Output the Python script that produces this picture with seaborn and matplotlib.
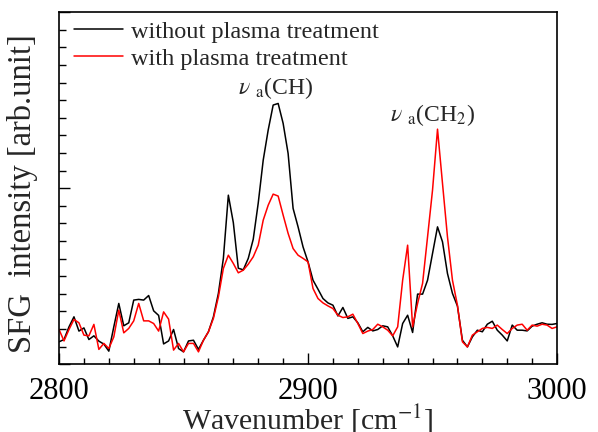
import numpy as np
import pandas as pd
import matplotlib
matplotlib.use("Agg")
import matplotlib.pyplot as plt
from matplotlib.ticker import MultipleLocator
import seaborn as sns

# SFG spectra, sampled every 2 cm-1 from 2800 to 3000
wavenumber = np.arange(2800, 3001, 2)

without_plasma = [
    1.27, 1.40, 2.12, 2.69, 1.88, 2.06, 1.40, 1.61, 1.31, 1.14,
    0.74, 2.12, 3.45, 2.18, 2.35, 3.64, 3.68, 3.64, 3.90, 3.03,
    2.77, 1.15, 1.32, 1.97, 0.89, 0.70, 1.32, 1.36, 0.84, 1.36,
    1.84, 2.69, 4.02, 6.01, 9.60, 8.04, 5.45, 5.36, 6.01, 7.10,
    9.15, 11.59, 13.30, 14.72, 14.81, 13.68, 11.97, 8.85, 7.80, 6.66,
    5.81, 4.77, 4.26, 3.73, 3.48, 3.35, 2.74, 3.22, 2.60, 2.69,
    2.35, 1.84, 2.09, 1.89, 1.97, 2.18, 2.12, 1.61, 0.98, 2.31,
    2.78, 1.80, 3.98, 3.98, 4.77, 6.29, 7.80, 6.95, 5.15, 4.02,
    3.30, 1.36, 0.98, 1.55, 1.93, 1.84, 2.27, 2.44, 1.93, 1.65,
    1.32, 2.22, 1.93, 1.93, 1.89, 2.16, 2.27, 2.35, 2.27, 2.26,
    2.31,
]

with_plasma = [
    1.97, 1.32, 1.97, 2.54, 2.35, 1.65, 1.61, 2.26, 0.84, 1.18,
    0.89, 1.55, 3.07, 1.78, 2.03, 2.46, 3.45, 2.46, 2.46, 2.31,
    1.88, 2.97, 2.56, 0.80, 1.18, 0.70, 1.18, 1.18, 0.70, 1.36,
    1.84, 2.60, 3.82, 5.44, 6.19, 5.72, 5.19, 5.34, 5.68, 6.10,
    6.76, 8.18, 9.03, 9.66, 9.55, 8.47, 7.43, 6.57, 6.19, 6.01,
    5.81, 4.30, 3.73, 3.48, 3.31, 3.16, 2.78, 2.65, 2.69, 2.84,
    2.31, 1.74, 1.88, 1.97, 2.27, 2.12, 1.93, 1.61, 2.12, 4.77,
    6.76, 2.12, 3.45, 4.59, 7.23, 9.89, 13.35, 10.27, 7.23, 4.77,
    3.35, 1.27, 0.98, 1.65, 1.84, 2.03, 2.09, 2.03, 2.22, 1.97,
    1.74, 2.03, 2.22, 2.27, 1.93, 2.22, 2.16, 2.27, 2.22, 2.03,
    2.12,
]

labels = ["without plasma treatment", "with plasma treatment"]
colours = {"without plasma treatment": "black", "with plasma treatment": "#ff0000"}

data = pd.concat([
    pd.DataFrame({"wavenumber": wavenumber, "intensity": without_plasma, "sample": labels[0]}),
    pd.DataFrame({"wavenumber": wavenumber, "intensity": with_plasma, "sample": labels[1]}),
])

sns.set_theme(style="ticks")
plt.rcParams["font.family"] = ["Liberation Serif", "DejaVu Serif"]
plt.rcParams["mathtext.fontset"] = "stix"

fig = plt.figure(figsize=(5.98, 4.32), dpi=100)
ax = fig.add_axes([0.0987, 0.157, 0.8328, 0.815])

sns.lineplot(data=data, x="wavenumber", y="intensity", hue="sample",
             palette=colours, linewidth=1.1, ax=ax)

ax.set_xlim(2800, 3000)
ax.set_ylim(0, 20)
ax.xaxis.set_major_locator(MultipleLocator(100))
ax.xaxis.set_minor_locator(MultipleLocator(10))
ax.yaxis.set_major_locator(MultipleLocator(10))
ax.yaxis.set_minor_locator(MultipleLocator(1))
ax.tick_params(which="both", direction="in", top=False, right=False, width=1.0, colors="black")
ax.tick_params(which="major", length=8, labelsize=22, pad=9)
ax.tick_params(which="minor", length=4.5)
ax.tick_params(axis="y", which="minor", length=5)
ax.set_yticklabels([])
for s in ax.spines.values():
    s.set_linewidth(1.2)
    s.set_color("black")

ax.set_xlabel("Wavenumber [cm$^{-1}$]", fontsize=21.5, labelpad=-2)
ax.set_ylabel("SFG  intensity [arb.unit]", fontsize=23.5)
ax.yaxis.set_label_coords(-0.043, 0.485)

ax.text(2887, 15.7, r"$\nu$ $_{\rm a}$(CH)", fontsize=17, ha="center", va="center")
ax.text(2950, 14.15, r"$\nu$ $_{\rm a}$(CH$_2$)", fontsize=17, ha="center", va="center")

leg = ax.legend(loc="upper left", bbox_to_anchor=(0.03, 0.975), frameon=False,
                fontsize=17.5, handlelength=2.0, handletextpad=0.33,
                labelspacing=0.2, borderaxespad=0, borderpad=0)
for line in leg.get_lines():
    line.set_linewidth(1.1)

fig.savefig("out.png", dpi=100)
